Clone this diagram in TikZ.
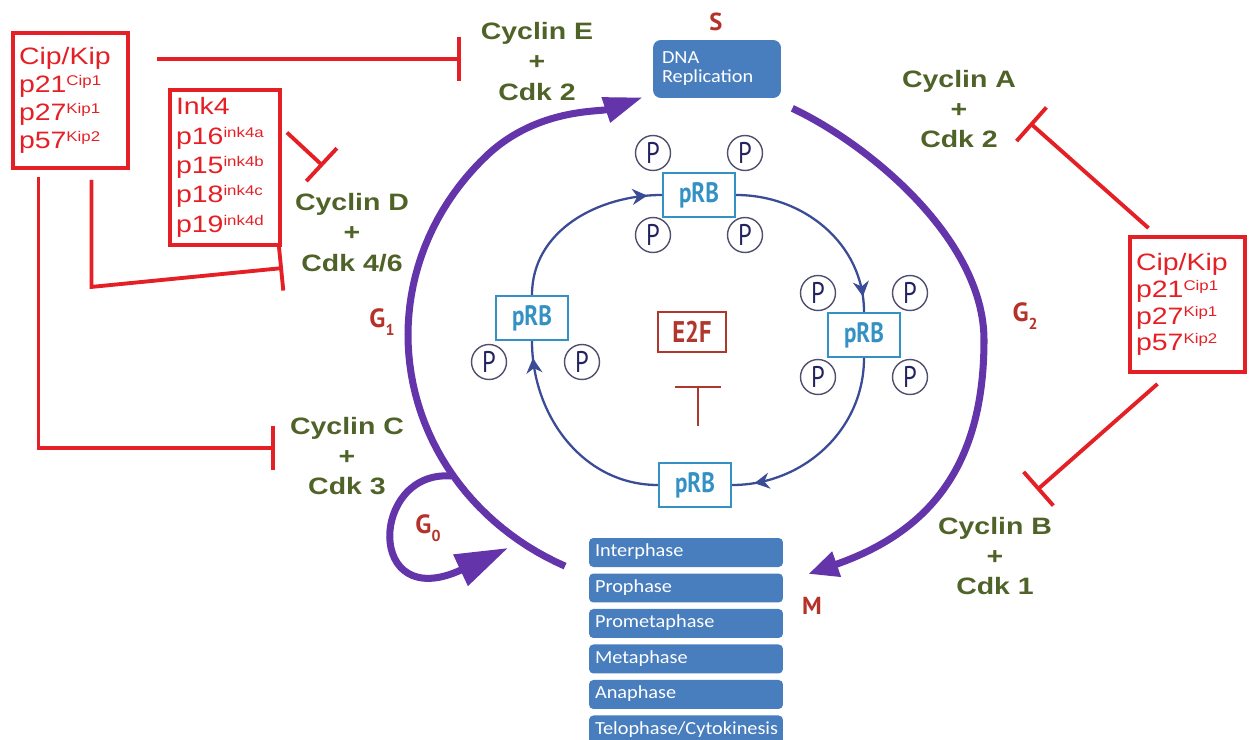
\documentclass[tikz,border=0pt]{standalone}
\usepackage{fontspec}
\usetikzlibrary{arrows.meta,positioning,decorations.markings}
\newfontfamily\lsans[FakeStretch=1.2]{Liberation Sans}
\newfontfamily\calf[FakeStretch=1.1]{Carlito}
\newfontfamily\ptnarrow[FakeStretch=0.82]{PT Sans}
\newfontfamily\ptwide{PT Sans}
\definecolor{inhred}{RGB}{228,32,38}
\definecolor{cycgreen}{RGB}{79,98,40}
\definecolor{cycpurple}{RGB}{100,52,170}
\definecolor{phaseblue}{RGB}{72,126,190}
\definecolor{prbblue}{RGB}{52,145,196}
\definecolor{ringblue}{RGB}{58,76,150}
\definecolor{pnavy}{RGB}{35,35,95}
\definecolor{pgray}{RGB}{80,80,110}
\definecolor{e2fred}{RGB}{175,55,45}
\definecolor{glabred}{RGB}{180,50,40}
\newcommand\upidx[1]{\raisebox{0.3em}{\fontsize{8}{8}\selectfont#1}}
\newcommand\lowidx[1]{\raisebox{-0.3em}{\fontsize{9}{9}\selectfont#1}}
\begin{document}
\begin{tikzpicture}[x=0.02cm, y=-0.02cm,
		redbox/.style={draw=inhred, line width=2.2pt, text=inhred, align=left, inner xsep=0.12cm, font=\lsans\fontsize{13.5}{#1}\selectfont},
		cyclab/.style={text=cycgreen, align=center, font=\lsans\bfseries\fontsize{13.5}{17.3}\selectfont},
		inh/.style={draw=inhred, line width=2.2pt, -{Bar[width=0.9cm]}},
		cyc/.style={draw=cycpurple, line width=4pt},
		dnabox/.style={fill=phaseblue, rounded corners=4.5pt, minimum width=2.56cm, minimum height=1.16cm, text width=2.2cm, inner xsep=0.18cm, align=left, text=white, font=\calf\fontsize{10.5}{10.8}\selectfont},
		phasebox/.style={fill=phaseblue, rounded corners=2.5pt, minimum width=3.88cm, minimum height=0.58cm, text width=3.64cm, inner xsep=0.12cm, inner ysep=0pt, text height=7pt, text depth=2pt, align=left, text=white, font=\calf\fontsize{10.5}{12}\selectfont},
		prb/.style={draw=prbblue, fill=white, line width=1.3pt, minimum width=1.44cm, minimum height=0.88cm, text=prbblue, font=\ptnarrow\bfseries\fontsize{16}{16}\selectfont},
		pcirc/.style={circle, draw=pgray, line width=0.8pt, fill=white, minimum size=0.7cm, inner sep=0pt, text=pnavy, font=\ptnarrow\fontsize{17}{17}\selectfont},
		ringarr/.style={draw=ringblue, line width=1.3pt, postaction={decorate}, decoration={markings, mark=at position #1 with {\arrow{Stealth[length=0.3cm, width=0.32cm]}}}},
		phlab/.style={text=glabred, font=\ptwide\bfseries\fontsize{15}{15}\selectfont}]
	\useasboundingbox (0,0) rectangle (1251,740);
	\node[redbox=15.9, minimum width=2.3cm, minimum height=2.7cm, text width=2.06cm] (cipL) at (70.5,100.5) {Cip/Kip\\p21\upidx{Cip1}\\p27\upidx{Kip1}\\p57\upidx{Kip2}};
	\node[redbox=16.7, minimum width=2.2cm, minimum height=3.1cm, text width=1.96cm] (ink) at (225,167.5) {Ink4\\p16\upidx{ink4a}\\p15\upidx{ink4b}\\p18\upidx{ink4c}\\p19\upidx{ink4d}};
	\node[redbox=15.3, minimum width=2.3cm, minimum height=2.7cm, text width=2.06cm] (cipR) at (1187.5,304.5) {Cip/Kip\\p21\upidx{Cip1}\\p27\upidx{Kip1}\\p57\upidx{Kip2}};
	\node[cyclab] (cycE) at (537,61.5) {Cyclin E\\+\\Cdk 2};
	\node[cyclab] (cycA) at (959,109) {Cyclin A\\+\\Cdk 2};
	\node[cyclab] (cycD) at (352,232.5) {Cyclin D\\+\\Cdk 4/6};
	\node[cyclab] (cycC) at (347,456) {Cyclin C\\+\\Cdk 3};
	\node[cyclab] (cycB) at (995,556) {Cyclin B\\+\\Cdk 1};
	\coordinate (eBar) at (461,59);
	\coordinate (dTop) at (323,166);
	\coordinate (dBar) at (283,268);
	\coordinate (cBar) at (275,448);
	\coordinate (aBar) at (1030,123);
	\coordinate (bBar) at (1037,490);
	\draw[inh, shorten <=0.54cm] (cipL.east |- eBar) -- (eBar);
	\draw[inh] ([shift={(5,-35)}]ink.east) -- (dTop);
	\draw[inh] ([shift={(21,10)}]cipL.south) -- ++(0,107) -- (dBar);
	\draw[inh] ([shift={(-32,7)}]cipL.south) |- (cBar);
	\draw[inh] ([shift={(-39,-7)}]cipR.north) -- (aBar);
	\draw[inh] ([shift={(-30,10)}]cipR.south) -- (bBar);
	\node[dnabox] (dna) at (717,69) {DNA\\Replication};
	\node[phlab, font=\ptwide\bfseries\fontsize{14}{14}\selectfont] (sph) at (716,22) {S};
	\node[phasebox] (interph) at (686,552.5) {Interphase};
	\node[phasebox, below=0.116cm of interph] (proph) {Prophase};
	\node[phasebox, below=0.116cm of proph] (prometaph) {Prometaphase};
	\node[phasebox, below=0.116cm of prometaph] (metaph) {Metaphase};
	\node[phasebox, below=0.116cm of metaph] (anaph) {Anaphase};
	\node[phasebox, below=0.116cm of anaph] (teloph) {Telophase/Cytokinesis};
	\node[phlab, font=\ptwide\bfseries\fontsize{14}{14}\selectfont] (mph) at (812,606) {M};
	\node[phlab] (gone) at (382,322) {G\lowidx{1}};
	\node[phlab] (gtwo) at (1025,316) {G\lowidx{2}};
	\node[phlab] (gzero) at (428,528) {G\lowidx{0}};
	\draw[cyc, -{Triangle[length=0.78cm, width=0.5cm]}] plot[domain=115:225, samples=50] ({680+272*cos(\x)},{335+255*sin(\x)}) .. controls (538,108) and (600,112) .. ([shift={(-10,-1)}]dna.south west);
	\draw[cyc, -{Triangle[length=0.6cm, width=0.5cm]}] ([shift={(11,10)}]dna.south east) .. controls (870,145) and (984,240) .. (984,340) .. controls (984,460) and (935,530) .. ([shift={(25,-14)}]proph.east);
	\coordinate (gOut) at (451,476);
	\coordinate (gIn) at (508,548);
	\draw[cyc, -{Triangle[length=1.05cm, width=0.66cm]}] (gOut) .. controls (370,470) and (365,615) .. (gIn);
	\node[prb] (prbT) at (699,195) {pRB};
	\node[prb] (prbR) at (864,335) {pRB};
	\node[prb] (prbB) at (695,485) {pRB};
	\node[prb] (prbL) at (532,318) {pRB};
	\node[pcirc] (pT1) at ([shift={(-46,-42)}]prbT) {P};
	\node[pcirc] (pT2) at ([shift={(46,-42)}]prbT) {P};
	\node[pcirc] (pT3) at ([shift={(-46,40)}]prbT) {P};
	\node[pcirc] (pT4) at ([shift={(46,40)}]prbT) {P};
	\node[pcirc] (pR1) at ([shift={(-46,-42)}]prbR) {P};
	\node[pcirc] (pR2) at ([shift={(46,-42)}]prbR) {P};
	\node[pcirc] (pR3) at ([shift={(-46,42)}]prbR) {P};
	\node[pcirc] (pR4) at ([shift={(46,42)}]prbR) {P};
	\node[pcirc] (pL1) at ([shift={(-43,44)}]prbL) {P};
	\node[pcirc] (pL2) at ([shift={(50,44)}]prbL) {P};
	\draw[ringarr=0.92] (prbT.east) to[out=0, in=90] (prbR.north);
	\draw[ringarr=0.89] (prbR.south) to[out=-90, in=0] (prbB.east);
	\draw[ringarr=0.92] (prbB.west) to[out=180, in=-90] (prbL.south);
	\draw[ringarr=0.92] (prbL.north) to[out=90, in=180] (prbT.west);
	\node[draw=e2fred, line width=1.2pt, minimum width=1.36cm, minimum height=0.8cm, text=e2fred, font=\ptnarrow\bfseries\fontsize{17}{17}\selectfont] (e2f) at (692,332) {E2F};
	\draw[draw=e2fred, line width=1.3pt, -{Bar[width=0.92cm]}] ([shift={(6,73)}]e2f.south) -- ([shift={(6,33)}]e2f.south);
\end{tikzpicture}
\end{document}
